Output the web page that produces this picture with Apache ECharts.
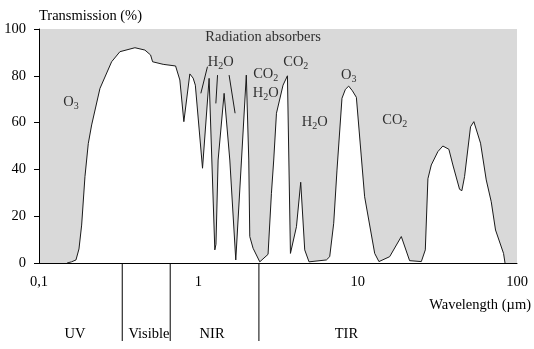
<!DOCTYPE html>
<html>
<head>
<meta charset="utf-8">
<script src="https://cdn.jsdelivr.net/npm/echarts@6/dist/echarts.min.js"></script>
<style>
  html, body { margin: 0; padding: 0; background: #fff; }
  #chart { width: 534px; height: 349px; }
</style>
</head>
<body>
<div id="chart"></div>
<script>
// Atmospheric transmission spectrum (wavelength in micrometres, transmission in %)
const wavelength = [0.150, 0.160, 0.1706, 0.1782, 0.1852, 0.1943, 0.2038, 0.2140, 0.2413, 0.2856,
  0.3220, 0.3999, 0.4619, 0.5016, 0.5163, 0.6016, 0.7197, 0.7656, 0.8111, 0.8845,
  0.9277, 0.9576, 1.0624, 1.1687, 1.2689, 1.29, 1.331, 1.4515, 1.576, 1.718,
  1.866, 2.000, 2.073, 2.103, 2.206, 2.430, 2.739, 2.876, 2.973, 3.093,
  3.401, 3.624, 3.709, 3.785, 4.128, 4.391, 4.653, 4.951, 6.365, 6.676,
  7.073, 7.418, 7.972, 8.374, 8.783, 9.265, 9.813, 11.06, 12.79, 13.60,
  15.88, 18.79, 21.18, 25.09, 26.58, 27.60, 28.98, 31.87, 34.25, 37.36,
  39.58, 43.60, 45.07, 46.86, 51.10, 53.60, 59.04, 64.12, 68.90, 73.32,
  82.33, 84.1];
const transmission = [0, 0.5, 1.3, 6.0, 16.2, 36.9, 51, 59, 74.6, 86,
  90.3, 92, 91, 88.9, 86, 84.9, 84.2, 78.2, 60.4, 80.8,
  79, 76, 40.5, 78.9, 5.6, 8, 44, 72.5, 44, 1.3,
  44, 80.3, 44, 11.3, 6.3, 0.5, 3.7, 29.8, 44, 64,
  76, 80, 80.3, 4.1, 15.5, 34.5, 5.6, 0.5, 1.3, 2.7,
  17, 39.7, 70.4, 74.2, 75.6, 73.6, 70.8, 28.3, 4.1, 0.6,
  2.7, 11.3, 1.0, 0.6, 5.6, 36, 41.9, 47.6, 50, 48.6,
  41.9, 31.5, 30.9, 36.9, 58.2, 60.4, 51.2, 35.5, 26.2, 14.1,
  4.1, 0];

// Short absorption strokes drawn in the near infrared
const strokeWavelength = [[1.037, 1.141], [1.288, 1.320], [1.560, 1.701]];
const strokeTransmission = [[72.5, 83.9], [68.2, 80.3], [80.3, 64.0]];

// Absorber annotations
const absorberLabels = ['Radiation absorbers', 'O3', 'H2O', 'CO2', 'H2O', 'CO2', 'O3', 'H2O', 'CO2'];
const absorberWavelength = [2.55, 0.159, 1.384, 2.65, 2.65, 4.09, 8.78, 5.38, 17.1];
const absorberTransmission = [96.7, 68.8, 85.9, 80.8, 72.6, 85.9, 80.3, 60.3, 61.1];

// Spectral bands below the axis
const bandNames = ['UV', 'Visible', 'NIR', 'TIR'];
const bandCenters = [0.168, 0.49, 1.22, 8.5];
const bandEdges = [0.333, 0.666, 2.40];

const xTickLabels = ['0,1', '1', '10', '100'];
const yTicks = [0, 20, 40, 60, 80, 100];

const FONT = '"Liberation Serif", "Times New Roman", serif';
const FS = 14.5;

// Turn "H2O" / "CO2" / "O3" into rich text with subscript digits
function chem(s) {
  return s.split('').map(ch => /[0-9]/.test(ch) ? '{s|' + ch + '}' : '{n|' + ch + '}').join('');
}

const chart = echarts.init(document.getElementById('chart'), null, { renderer: 'canvas' });

const strokeSeries = strokeWavelength.map((xs, i) => ({
  type: 'line',
  data: xs.map((x, j) => [x, strokeTransmission[i][j]]),
  symbol: 'none',
  silent: true,
  lineStyle: { color: '#1a1a1a', width: 1 },
  z: 4
}));

chart.setOption({
  animation: false,
  grid: {
    left: 39, right: 17, top: 29, bottom: 86,
    show: true, backgroundColor: '#d9d9d9', borderWidth: 0
  },
  xAxis: {
    type: 'log', logBase: 10, min: 0.1, max: 100,
    name: 'Wavelength (\u00b5m)',
    nameLocation: 'end',
    nameGap: 14,
    nameTextStyle: {
      fontFamily: FONT, fontSize: FS, color: '#000',
      align: 'right', verticalAlign: 'top', padding: [35, 0, 0, 0]
    },
    axisLine: { show: true, lineStyle: { color: '#000', width: 1 } },
    axisTick: { show: false },
    minorTick: { show: false },
    splitLine: { show: false },
    axisLabel: {
      fontFamily: FONT, fontSize: FS, color: '#000', margin: 12,
      formatter: v => xTickLabels[Math.round(Math.log10(v)) + 1]
    }
  },
  yAxis: {
    type: 'value', min: 0, max: 100, interval: 20,
    name: 'Transmission (%)',
    nameLocation: 'end',
    nameGap: 5,
    nameTextStyle: {
      fontFamily: FONT, fontSize: FS, color: '#000',
      align: 'left', verticalAlign: 'bottom'
    },
    axisLine: { show: true, lineStyle: { color: '#000', width: 1 } },
    axisTick: { show: true, length: 5, inside: false, lineStyle: { color: '#000' } },
    splitLine: { show: false },
    axisLabel: {
      fontFamily: FONT, fontSize: FS, color: '#000', margin: 13,
      formatter: v => yTicks.includes(v) ? String(v) : ''
    }
  },
  series: [
    {
      type: 'line',
      data: wavelength.map((w, i) => [w, transmission[i]]),
      symbol: 'none',
      silent: true,
      lineStyle: { color: '#1a1a1a', width: 1 },
      areaStyle: { color: '#ffffff', opacity: 1 },
      z: 3
    },
    ...strokeSeries,
    {
      type: 'scatter',
      data: absorberLabels.map((t, i) => ({ value: [absorberWavelength[i], absorberTransmission[i]], name: t })),
      symbolSize: 0,
      silent: true,
      z: 5,
      label: {
        show: true,
        position: 'inside',
        formatter: p => chem(p.name),
        rich: {
          n: { fontFamily: FONT, fontSize: FS, color: '#000', lineHeight: 17 },
          s: { fontFamily: FONT, fontSize: 10, color: '#000', lineHeight: 12, padding: [8, 0, 0, 0] }
        }
      }
    },
    {
      type: 'custom',
      silent: true,
      clip: false,
      data: [0],
      z: 5,
      renderItem: (params, api) => {
        const children = [];
        bandEdges.forEach(e => {
          const p = api.coord([e, 0]);
          children.push({
            type: 'line',
            shape: { x1: p[0], y1: p[1], x2: p[0], y2: p[1] + 78 },
            style: { stroke: '#000', lineWidth: 1 }
          });
        });
        bandNames.forEach((name, i) => {
          const p = api.coord([bandCenters[i], 0]);
          children.push({
            type: 'text',
            style: {
              text: name, x: p[0], y: p[1] + 71,
              font: FS + 'px ' + FONT, fill: '#000',
              align: 'center', verticalAlign: 'middle'
            }
          });
        });
        return { type: 'group', children };
      }
    }
  ]
});
</script>
</body>
</html>
